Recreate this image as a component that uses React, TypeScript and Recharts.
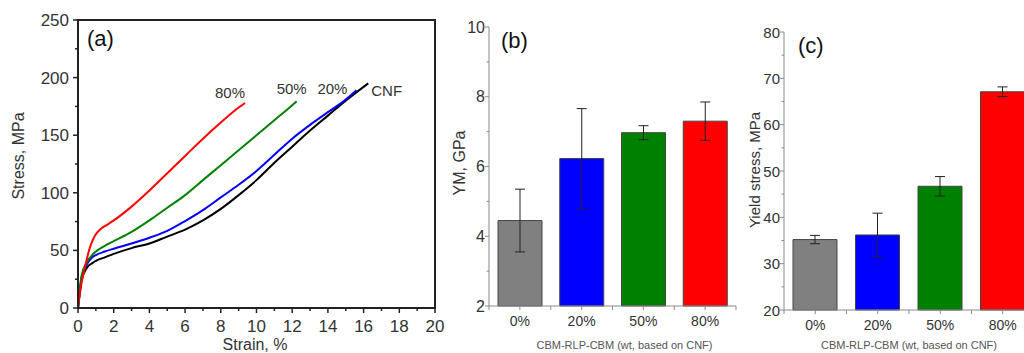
import {
  LineChart,
  Line,
  BarChart,
  Bar,
  Cell,
  ErrorBar,
  XAxis,
  YAxis,
  Label,
  ReferenceArea,
} from "recharts";

// (a) stress-strain curves, [strain %, stress MPa]
const CURVE_CNF = [
  [0, 0], [0.2, 24], [0.5, 35], [0.8, 39], [1, 41], [1.5, 44], [2, 47], [3, 52],
  [4, 56], [5, 62], [6, 68], [7, 76], [8, 86], [9, 98], [10, 111], [11, 126],
  [12, 140], [13, 154], [14, 167], [15, 180], [16.26, 195],
];
const CURVE_20 = [
  [0, 0], [0.2, 26], [0.5, 38], [0.8, 44], [1, 46], [1.5, 49], [2, 51.5], [3, 56],
  [4, 61], [5, 67], [6, 75.5], [7, 85], [8, 96], [9, 107], [10, 119], [11, 133],
  [12, 147], [13, 159], [14, 170], [15, 181], [15.6, 189],
];
const CURVE_50 = [
  [0, 0], [0.2, 28], [0.5, 40], [0.8, 46], [1, 49], [1.5, 54], [2, 58], [3, 66],
  [4, 76], [5, 87], [6, 98], [7, 111], [8, 124], [9, 137], [10, 150], [11, 163],
  [12, 176], [12.25, 179.5],
];
const CURVE_80 = [
  [0, 0], [0.2, 22], [0.4, 36], [0.6, 49], [0.8, 58], [1, 64], [1.3, 69], [1.6, 72],
  [2, 76], [3, 88], [4, 102], [5, 117], [6, 132], [7, 147], [8, 161], [9, 174],
  [9.36, 178],
];

const X_TICKS_A = Array.from({ length: 21 }, (_, i) => i);
const Y_TICKS_A = [0, 25, 50, 75, 100, 125, 150, 175, 200, 225, 250];

// (b) and (c) bars
const CATEGORIES = ["0%", "20%", "50%", "80%"];
const YM = [4.45, 6.23, 6.97, 7.3];
const YM_ERR = [0.9, 1.43, 0.2, 0.55];
const YIELD = [35.2, 36.2, 46.7, 67.1];
const YIELD_ERR = [0.9, 4.7, 2.1, 1.05];
const YM_TICKS = [2, 3, 4, 5, 6, 7, 8, 9, 10];
const YIELD_TICKS = [20, 25, 30, 35, 40, 45, 50, 55, 60, 65, 70, 75, 80];

const BAR_COLORS = ["#808080", "#0000ff", "#008000", "#ff0000"];
const FONT = "'Liberation Sans', Arial, sans-serif";
const AXIS_GRAY = "#8a8a8a";
const TEXT = "#333";

const SERIES = [
  { name: "CNF", curve: CURVE_CNF, color: "#000000", dx: 3, dy: 13, anchor: "start" },
  { name: "20%", curve: CURVE_20, color: "#0000ff", dx: -9, dy: 4, anchor: "end" },
  { name: "50%", curve: CURVE_50, color: "#008000", dx: 10, dy: -7, anchor: "end" },
  { name: "80%", curve: CURVE_80, color: "#ff0000", dx: 0, dy: -5, anchor: "end" },
];

const toPoints = (c: number[][]) => c.map(([x, y]) => ({ x, y }));
const barData = (vals: number[], errs: number[]) =>
  CATEGORIES.map((c, i) => ({ name: c, value: vals[i], err: errs[i] }));

const XTickA = ({ x, y, payload }: any) => {
  const major = payload.value % 2 === 0;
  return (
    <g>
      <line x1={x} x2={x} y1={y} y2={y + (major ? 5 : 3)} stroke="#222" strokeWidth={1.5} />
      {major && (
        <text x={x} y={y + 24} textAnchor="middle" fontSize={17} fill={TEXT} fontFamily={FONT}>
          {payload.value}
        </text>
      )}
    </g>
  );
};

const YTickA = ({ x, y, payload }: any) => {
  const major = payload.value % 50 === 0;
  return (
    <g>
      <line x1={x} x2={x - (major ? 5 : 3)} y1={y} y2={y} stroke="#222" strokeWidth={1.5} />
      {major && (
        <text x={x - 9} y={y + 6} textAnchor="end" fontSize={17} fill={TEXT} fontFamily={FONT}>
          {payload.value}
        </text>
      )}
    </g>
  );
};

const makeYTick = (step: number, fontSize: number) => ({ x, y, payload }: any) => {
  const major = payload.value % step === 0;
  return (
    <g>
      <line x1={x} x2={x - (major ? 4 : 2.5)} y1={y} y2={y} stroke={AXIS_GRAY} />
      {major && (
        <text x={x - 4} y={y + 5.5} textAnchor="end" fontSize={fontSize} fill={TEXT} fontFamily={FONT}>
          {payload.value}
        </text>
      )}
    </g>
  );
};

const makeCatTick = (band: number) => ({ x, y, payload, index }: any) => {
  const half = payload.offset || band / 2;
  return (
    <g>
      <line x1={x} x2={x} y1={y} y2={y + 4} stroke={AXIS_GRAY} />
      <line x1={x - half} x2={x - half} y1={y} y2={y + 4} stroke={AXIS_GRAY} />
      {index === CATEGORIES.length - 1 && (
        <line x1={x + half} x2={x + half} y1={y} y2={y + 4} stroke={AXIS_GRAY} />
      )}
      <text x={x} y={y + 20} textAnchor="middle" fontSize={14} fill={TEXT} fontFamily={FONT}>
        {payload.value}
      </text>
    </g>
  );
};

const yTitle = (text: string, dx: number, dy: number, size: number) => (p: any) => {
  const vb = p.viewBox;
  const cx = vb.x + dx;
  const cy = vb.y + vb.height / 2 + dy;
  return (
    <text
      x={cx}
      y={cy}
      transform={`rotate(-90 ${cx} ${cy})`}
      textAnchor="middle"
      dominantBaseline="central"
      fontSize={size}
      fill={TEXT}
      fontFamily={FONT}
    >
      {text}
    </text>
  );
};

const xTitle = (text: string, dx: number, dy: number, size: number, color: string) => (p: any) => {
  const vb = p.viewBox;
  return (
    <text x={vb.x + vb.width / 2 + dx} y={vb.y + dy} textAnchor="middle" fontSize={size} fill={color} fontFamily={FONT}>
      {text}
    </text>
  );
};

function StressStrain() {
  return (
    <LineChart width={450} height={353} margin={{ top: 20, right: 15, bottom: 0, left: 0 }}>
      <XAxis
        type="number"
        dataKey="x"
        domain={[0, 20]}
        ticks={X_TICKS_A}
        interval={0}
        height={45}
        tickSize={0}
        tickMargin={0}
        tickLine={false}
        tick={<XTickA />}
        axisLine={{ stroke: "#222", strokeWidth: 2 }}
      >
        <Label content={xTitle("Strain, %", -1.5, 42, 16, TEXT)} />
      </XAxis>
      <YAxis
        type="number"
        domain={[0, 250]}
        ticks={Y_TICKS_A}
        interval={0}
        width={78}
        tickSize={0}
        tickMargin={0}
        tickLine={false}
        tick={<YTickA />}
        axisLine={{ stroke: "#222", strokeWidth: 2 }}
      >
        <Label content={yTitle("Stress, MPa", 18, -8, 16)} />
      </YAxis>
      <ReferenceArea x1={0} x2={20} y1={0} y2={250} fill="none" stroke="#222" strokeWidth={2} ifOverflow="visible" />
      {SERIES.map((s) => (
        <Line
          key={s.name}
          data={toPoints(s.curve)}
          dataKey="y"
          type="monotone"
          stroke={s.color}
          strokeWidth={2}
          dot={false}
          activeDot={false}
          isAnimationActive={false}
          label={(p: any) =>
            p.index === s.curve.length - 1 ? (
              <text
                x={p.x + s.dx}
                y={p.y + s.dy}
                textAnchor={s.anchor}
                fontSize={15}
                fill={TEXT}
                fontFamily={FONT}
              >
                {s.name}
              </text>
            ) : (
              <g />
            )
          }
        />
      ))}
      <text x={87} y={46} fontSize={22} fill="#111" fontFamily={FONT}>
        (a)
      </text>
    </LineChart>
  );
}

function BarPanel(props: {
  width: number;
  yWidth: number;
  right: number;
  top: number;
  xHeight: number;
  band: number;
  data: { name: string; value: number; err: number }[];
  domain: [number, number];
  ticks: number[];
  step: number;
  tickFont: number;
  yLabel: string;
  yLabelDx: number;
  yLabelDy: number;
  yLabelSize: number;
  xLabelDx: number;
  xLabelDy: number;
  letter: string;
  letterX: number;
  letterY: number;
}) {
  return (
    <BarChart
      width={props.width}
      height={353}
      data={props.data}
      margin={{ top: props.top, right: props.right, bottom: 0, left: 0 }}
    >
      <XAxis
        dataKey="name"
        height={props.xHeight}
        tickSize={0}
        tickMargin={0}
        tickLine={false}
        interval={0}
        tick={makeCatTick(props.band)}
        axisLine={{ stroke: AXIS_GRAY }}
      >
        <Label content={xTitle("CBM-RLP-CBM (wt, based on CNF)", props.xLabelDx, props.xLabelDy, 11, "#555")} />
      </XAxis>
      <YAxis
        type="number"
        domain={props.domain}
        ticks={props.ticks}
        interval={0}
        width={props.yWidth}
        tickSize={0}
        tickMargin={0}
        tickLine={false}
        tick={makeYTick(props.step, props.tickFont)}
        axisLine={{ stroke: AXIS_GRAY }}
      >
        <Label content={yTitle(props.yLabel, props.yLabelDx, props.yLabelDy, props.yLabelSize)} />
      </YAxis>
      <Bar dataKey="value" barSize={44} stroke="#444" strokeWidth={1} isAnimationActive={false}>
        {props.data.map((d, i) => (
          <Cell key={d.name} fill={BAR_COLORS[i]} />
        ))}
        <ErrorBar dataKey="err" width={5} stroke="#222" strokeWidth={1} isAnimationActive={false} />
      </Bar>
      <text x={props.letterX} y={props.letterY} fontSize={22} fill="#111" fontFamily={FONT}>
        {props.letter}
      </text>
    </BarChart>
  );
}

export default function App() {
  return (
    <div
      style={{
        position: "absolute",
        left: 0,
        top: 0,
        width: 1024,
        height: 353,
        overflow: "hidden",
        background: "#fff",
      }}
    >
      <div style={{ position: "absolute", left: 0, top: 0 }}>
        <StressStrain />
      </div>
      <div style={{ position: "absolute", left: 440, top: 0 }}>
        <BarPanel
          width={310}
          yWidth={49}
          right={14}
          top={27}
          xHeight={47}
          band={61.7}
          data={barData(YM, YM_ERR)}
          domain={[2, 10]}
          ticks={YM_TICKS}
          step={2}
          tickFont={16}
          yLabel="YM, GPa"
          yLabelDx={19}
          yLabelDy={-3.5}
          yLabelSize={16}
          xLabelDx={12}
          xLabelDy={43}
          letter="(b)"
          letterX={61}
          letterY={48}
        />
      </div>
      <div style={{ position: "absolute", left: 740, top: 0 }}>
        <BarPanel
          width={300}
          yWidth={44}
          right={6}
          top={32}
          xHeight={43}
          band={62.5}
          data={barData(YIELD, YIELD_ERR)}
          domain={[20, 80]}
          ticks={YIELD_TICKS}
          step={10}
          tickFont={15}
          yLabel="Yield stress, MPa"
          yLabelDx={14}
          yLabelDy={-1}
          yLabelSize={15}
          xLabelDx={0}
          xLabelDy={39}
          letter="(c)"
          letterX={58}
          letterY={53}
        />
      </div>
    </div>
  );
}
